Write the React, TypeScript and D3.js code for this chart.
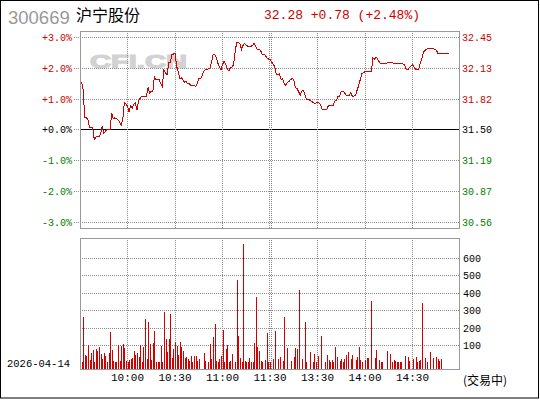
import React from 'react';
import * as d3 from 'd3';

const STOCK_CODE = '300669';
const STOCK_NAME = '沪宁股份';
const PREV_CLOSE = 31.5;
const TRADE_DATE = '2026-04-14';
const STATUS_TEXT = '(交易中)';
const PCT_TICKS = [3, 2, 1, 0, -1, -2, -3];
const VOL_TICKS = [100, 200, 300, 400, 500, 600];
const TIME_TICK_MINUTES = [30, 60, 90, 120, 150, 180, 210];
const TIME_TICK_LABELS = ['10:00', '10:30', '11:00', '11:30', '13:30', '14:00', '14:30'];
const SESSION_MINUTES = 240;
const PRICE_START_MINUTE = 1;

// minute-by-minute price (from 09:31)
const PRICES = [
  31.99, 31.90, 31.62, 31.62, 31.60, 31.52, 31.52, 31.52, 31.40, 31.42,
  31.43, 31.43, 31.45, 31.53, 31.46, 31.48, 31.50, 31.50, 31.50, 31.67,
  31.61, 31.62, 31.61, 31.60, 31.58, 31.54, 31.60, 31.78, 31.76, 31.74,
  31.68, 31.74, 31.72, 31.76, 31.77, 31.70, 31.79, 31.82, 31.84, 31.84,
  31.84, 31.84, 31.93, 31.87, 31.89, 31.89, 32.04, 32.01, 32.01, 32.01,
  31.97, 31.94, 32.11, 32.08, 32.06, 32.18, 32.18, 32.27, 32.27, 32.28,
  32.15, 32.09, 32.02, 32.03, 32.01, 31.98, 31.99, 31.97, 31.97, 31.95,
  31.95, 31.95, 31.94, 31.97, 32.02, 32.02, 32.04, 32.09, 32.11, 32.11,
  32.12, 32.12, 32.18, 32.26, 32.27, 32.24, 32.18, 32.14, 32.11, 32.16,
  32.20, 32.17, 32.12, 32.10, 32.13, 32.14, 32.16, 32.30, 32.39, 32.39,
  32.38, 32.32, 32.36, 32.38, 32.36, 32.35, 32.35, 32.35, 32.36, 32.38,
  32.35, 32.32, 32.32, 32.31, 32.27, 32.27, 32.26, 32.23, 32.22, 32.22,
  32.19, 32.17, 32.14, 32.06, 32.06, 32.07, 32.01, 32.02, 31.97, 31.95,
  31.98, 31.99, 32.01, 32.02, 32.01, 31.93, 31.92, 31.89, 31.85, 31.89,
  31.90, 31.86, 31.81, 31.81, 31.80, 31.79, 31.78, 31.77, 31.77, 31.78,
  31.77, 31.75, 31.70, 31.70, 31.70, 31.71, 31.75, 31.75, 31.75, 31.75,
  31.79, 31.80, 31.84, 31.84, 31.89, 31.89, 31.88, 31.85, 31.85, 31.85,
  31.88, 31.84, 31.84, 31.85, 31.90, 31.95, 32.01, 32.07, 32.08, 32.09,
  32.09, 32.09, 32.09, 32.09, 32.23, 32.22, 32.24, 32.22, 32.19, 32.17,
  32.17, 32.17, 32.17, 32.18, 32.19, 32.18, 32.19, 32.17, 32.17, 32.17,
  32.17, 32.17, 32.17, 32.17, 32.16, 32.11, 32.11, 32.13, 32.15, 32.16,
  32.14, 32.11, 32.11, 32.12, 32.18, 32.23, 32.29, 32.31, 32.32, 32.33,
  32.33, 32.33, 32.33, 32.32, 32.31, 32.28, 32.28, 32.28, 32.28, 32.28,
  32.28, 32.28, 32.28,
];

// minute-by-minute volume (from 09:30)
const VOLUMES = [
  0, 5, 261, 44, 39, 101, 15, 58, 73, 5,
  79, 67, 90, 50, 21, 56, 39, 4, 56, 176,
  73, 10, 5, 5, 101, 10, 96, 107, 85, 10,
  2, 15, 21, 27, 67, 44, 56, 33, 101, 2,
  90, 250, 21, 232, 107, 15, 113, 181, 4, 4,
  4, 96, 4, 290, 136, 62, 136, 278, 27, 79,
  118, 96, 44, 118, 90, 67, 27, 33, 21, 10,
  39, 2, 39, 39, 10, 21, 0, 0, 56, 10,
  0, 5, 107, 21, 147, 221, 10, 2, 21, 39,
  187, 2, 79, 101, 5, 10, 50, 0, 2, 472,
  153, 27, 2, 678, 10, 2, 5, 27, 2, 5,
  113, 375, 90, 67, 10, 5, 0, 15, 170, 2,
  5, 0, 21, 181, 0, 21, 33, 0, 10, 261,
  0, 85, 0, 10, 0, 33, 85, 79, 415, 0,
  21, 0, 233, 4, 0, 62, 0, 4, 50, 2,
  39, 0, 153, 0, 0, 2, 44, 15, 4, 15,
  2, 90, 33, 0, 10, 21, 2, 21, 44, 62,
  0, 21, 44, 0, 15, 33, 90, 15, 2, 0,
  15, 27, 27, 0, 352, 0, 27, 73, 0, 15,
  3, 4, 0, 0, 67, 0, 50, 3, 15, 10,
  4, 3, 4, 3, 0, 39, 0, 33, 10, 0,
  21, 0, 33, 3, 10, 15, 341, 0, 27, 4,
  0, 62, 0, 27, 0, 33, 21, 10, 21,
];

const RED = '#d40000';
const GREEN = '#008000';
const GRID = '#8c8c8c';
const BORDER = '#999999';
const MONO = '"Liberation Mono", "DejaVu Sans Mono", monospace';

const snap = (v: number) => Math.round(v - 0.01) + 0.5;

export default function App() {
  const W = 540;
  const H = 400;
  const left = 80;
  const right = 460;
  const pTop = 31;
  const pBottom = 228;
  const vTop = 238;
  const vBottom = 369;

  const x = d3.scaleLinear().domain([0, SESSION_MINUTES]).range([left, right]);
  const yPrice = d3
    .scaleLinear()
    .domain([PREV_CLOSE * 0.97, PREV_CLOSE * 1.03])
    .range([222, 37]);
  const yVol = d3.scaleLinear().domain([0, 600]).range([362.8, 257.6]);

  const last = PRICES[PRICES.length - 1];
  const chg = last - PREV_CLOSE;
  const chgPct = (chg / PREV_CLOSE) * 100;
  const sign = (v: number) => (v >= 0 ? '+' : '-');
  const header = `${last.toFixed(2)} ${sign(chg)}${Math.abs(chg).toFixed(2)} (${sign(chgPct)}${Math.abs(chgPct).toFixed(2)}%)`;

  const line = d3
    .line<number>()
    .x((_, i) => x(i + PRICE_START_MINUTE))
    .y((d) => yPrice(d));

  const pctColor = (p: number) => (p > 0 ? '#cc0000' : p < 0 ? GREEN : '#000');
  const priceAt = (p: number) => (Math.round(PREV_CLOSE * (1 + p / 100) * 100 + 1e-6) / 100).toFixed(2);

  const vLines: number[] = [];
  TIME_TICK_MINUTES.forEach((m) => {
    if (m === 120) {
      vLines.push(Math.round(x(m)) - 0.5, Math.round(x(m)) + 1.5);
    } else {
      vLines.push(snap(x(m)));
    }
  });

  return (
    <svg
      width={W}
      height={H}
      style={{ position: 'absolute', left: 0, top: 0, background: '#fff' }}
    >
      <rect x={0} y={0} width={W} height={H} fill="#fff" />
      <rect x={0.5} y={0.5} width={538} height={397.5} fill="none" stroke="#000" strokeWidth={1} />

      {/* header */}
      <text x={8} y={23.5} fontFamily='"Liberation Sans", Arial, sans-serif' fontSize={18.5} fill="#999">
        {STOCK_CODE}
      </text>
      <text x={76} y={21} fontFamily='"Noto Sans CJK SC", sans-serif' fontSize={16} fill="#000">
        {STOCK_NAME}
      </text>
      <text x={264} y={19} fontFamily={MONO} fontSize={13} fill="#cc0000">
        {header}
      </text>

      {/* watermark */}
      <text
        x={90}
        y={67.5}
        fontFamily='"Liberation Sans", Arial, sans-serif'
        fontWeight="bold"
        fontSize={18.5}
        fill="#d2d2d2"
        stroke="#d2d2d2"
        strokeWidth={1.2}
        textLength={97}
        lengthAdjust="spacingAndGlyphs"
      >
        CFi.CN
      </text>

      {/* price grid */}
      {PCT_TICKS.map((p) => {
        const yy = snap(yPrice(PREV_CLOSE * (1 + p / 100)));
        return (
          <g key={'pg' + p}>
            {p === 0 ? (
              <>
                <line x1={74} x2={left} y1={yy} y2={yy} stroke={GRID} strokeDasharray="1,1" shapeRendering="crispEdges" />
                <line x1={left} x2={right} y1={Math.floor(yPrice(PREV_CLOSE)) + 0.5} y2={Math.floor(yPrice(PREV_CLOSE)) + 0.5} stroke="#000" shapeRendering="crispEdges" />
              </>
            ) : (
              <line x1={74} x2={right} y1={yy} y2={yy} stroke={GRID} strokeDasharray="1,1" shapeRendering="crispEdges" />
            )}
            <text
              x={72}
              y={yy + 3.5}
              textAnchor="end"
              fontFamily={MONO}
              fontSize={10}
              fill={pctColor(p)}
            >
              {`${p >= 0 ? '+' : '-'}${Math.abs(p).toFixed(1)}%`}
            </text>
            <text x={462} y={yy + 3.5} fontFamily={MONO} fontSize={10} fill={pctColor(p)}>
              {priceAt(p)}
            </text>
          </g>
        );
      })}
      {vLines.map((vx, i) => (
        <line key={'pv' + i} x1={vx} x2={vx} y1={pTop} y2={pBottom} stroke={GRID} strokeDasharray="1,1" shapeRendering="crispEdges" />
      ))}

      {/* price line */}
      <path d={line(PRICES) || ''} fill="none" stroke={RED} strokeWidth={1} shapeRendering="crispEdges" />

      <rect x={left + 0.5} y={pTop + 0.5} width={right - left - 1} height={pBottom - pTop} fill="none" stroke={BORDER} shapeRendering="crispEdges" />

      {/* volume grid */}
      {VOL_TICKS.map((v) => {
        const yy = snap(yVol(v));
        return (
          <g key={'vg' + v}>
            <line x1={left} x2={right} y1={yy} y2={yy} stroke={GRID} strokeDasharray="1,1" shapeRendering="crispEdges" />
            <text x={463} y={yy + 3.5} fontFamily={MONO} fontSize={10} fill="#000">
              {v}
            </text>
          </g>
        );
      })}
      {vLines.map((vx, i) => (
        <line key={'vv' + i} x1={vx} x2={vx} y1={vTop} y2={vBottom} stroke={GRID} strokeDasharray="1,1" shapeRendering="crispEdges" />
      ))}

      {/* volume bars */}
      {VOLUMES.map((v, i) =>
        v > 0 ? (
          <rect
            key={'b' + i}
            x={Math.round(x(i))}
            y={Math.round(yVol(v))}
            width={1}
            height={vBottom - Math.round(yVol(v))}
            fill={RED}
            shapeRendering="crispEdges"
          />
        ) : null
      )}

      <rect x={left + 0.5} y={vTop + 0.5} width={right - left - 1} height={vBottom - vTop} fill="none" stroke={BORDER} shapeRendering="crispEdges" />

      {/* time axis */}
      {TIME_TICK_MINUTES.map((m, i) => (
        <text key={'t' + m} x={x(m)} y={381} textAnchor="middle" fontFamily={MONO} fontSize={11} fill="#000">
          {TIME_TICK_LABELS[i]}
        </text>
      ))}
      <text x={7} y={367} fontFamily={MONO} fontSize={10.5} fill="#000">
        {TRADE_DATE}
      </text>
      <text x={463} y={384.5} fontFamily='"Noto Sans CJK SC", sans-serif' fontSize={12} fill="#000">
        {STATUS_TEXT}
      </text>
    </svg>
  );
}
